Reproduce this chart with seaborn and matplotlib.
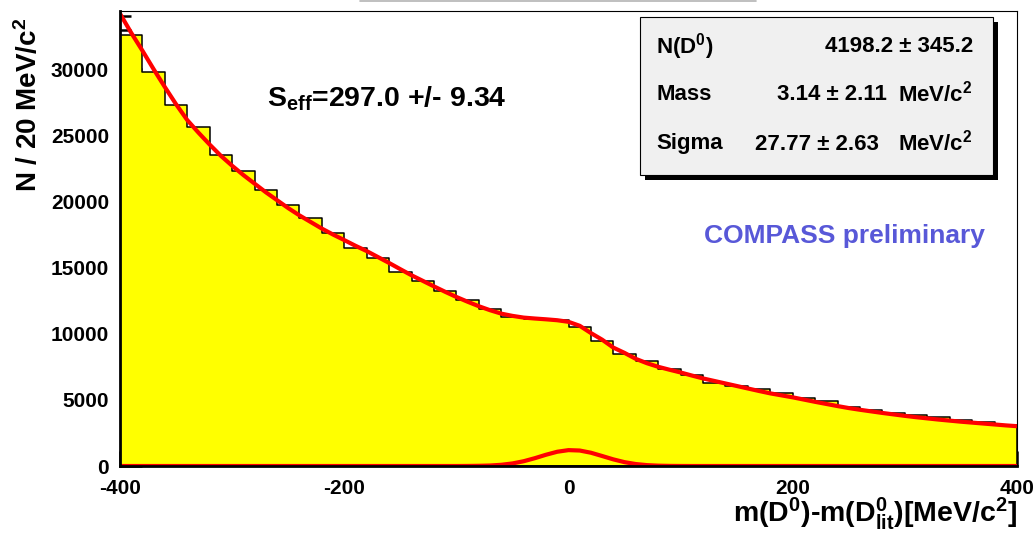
import matplotlib
matplotlib.use('Agg')
import matplotlib.pyplot as plt
import seaborn as sns
import pandas as pd
from matplotlib.patches import Rectangle
from matplotlib.lines import Line2D
from matplotlib.ticker import MultipleLocator

# histogram: 40 bins of 20 MeV from -400 to 400
bin_edges = list(range(-400, 401, 20))
counts = [32600, 29800, 27300, 25600, 23500, 22300, 20900, 19700, 18770, 17600,
          16480, 15720, 14660, 13990, 13230, 12530, 11850, 11270, 11150, 11070,
          10500, 9450, 8480, 7920, 7320, 6870, 6300, 6040, 5790, 5530,
          5160, 4930, 4480, 4260, 4020, 3850, 3670, 3490, 3300, 3100]

# total fit curve, read every 10 MeV
fit_x = list(range(-400, 401, 10))
fit_y = [34200, 32750, 31400, 30000, 28650, 27350, 26150, 25200, 24300, 23450,
         22700, 22000, 21350, 20700, 20100, 19500, 18950, 18450, 17950, 17500,
         17080, 16650, 16250, 15800, 15350, 14880, 14420, 14000, 13580, 13170,
         12780, 12420, 12080, 11780, 11520, 11350, 11220, 11150, 11090, 11020,
         10900, 10600, 10050, 9550, 8950, 8550, 8100, 7770, 7500, 7280,
         7070, 6840, 6620, 6430, 6240, 6050, 5860, 5670, 5490, 5340,
         5190, 5020, 4850, 4690, 4530, 4380, 4250, 4130, 4010, 3900,
         3790, 3690, 3600, 3510, 3430, 3350, 3280, 3210, 3140, 3070, 3010]

# signal component
sig_x = [-400, -100, -90, -80, -70, -60, -50, -40, -30, -20, -10, 0,
         10, 20, 30, 40, 50, 60, 70, 80, 90, 100, 110, 400]
sig_y = [0, 0, 5, 16, 37, 91, 193, 360, 591, 852, 1078, 1200,
         1170, 1003, 755, 500, 290, 148, 66, 26, 9, 3, 0, 0]

W, H = 1036, 534


def fx(px):
    return px / W


def fy(py):
    return 1 - py / H


sns.set_theme(style='ticks')
plt.rcParams['font.family'] = ['Liberation Sans', 'DejaVu Sans']
plt.rcParams['font.weight'] = 'bold'
plt.rcParams['text.color'] = 'black'
plt.rcParams['xtick.color'] = 'black'
plt.rcParams['ytick.color'] = 'black'
plt.rcParams['mathtext.fontset'] = 'custom'
plt.rcParams['mathtext.rm'] = 'Liberation Sans:bold'
plt.rcParams['mathtext.it'] = 'Liberation Sans:bold'
plt.rcParams['mathtext.bf'] = 'Liberation Sans:bold'
plt.rcParams['mathtext.default'] = 'rm'
plt.rcParams['axes.unicode_minus'] = False

fig = plt.figure(figsize=(10.36, 5.34), dpi=100)
ax = fig.add_axes([fx(120), fy(466), fx(1017) - fx(120), fy(11) - fy(466)])

hist_df = pd.DataFrame({'m': [b + 10 for b in bin_edges[:-1]], 'n': counts})
sns.histplot(data=hist_df, x='m', weights='n', bins=bin_edges, element='step',
             fill=True, color='#ffff00', edgecolor='black', linewidth=1.1,
             alpha=1, ax=ax)
sns.lineplot(x=fit_x, y=fit_y, color='red', linewidth=3, estimator=None,
             sort=False, ax=ax)
sns.lineplot(x=sig_x, y=sig_y, color='red', linewidth=3, estimator=None,
             sort=False, ax=ax)

ax.set_xlim(-400, 400)
ax.set_ylim(0, 34400)
ax.set_xlabel('')
ax.set_ylabel('')
ax.xaxis.set_major_locator(MultipleLocator(200))
ax.xaxis.set_minor_locator(MultipleLocator(50))
ax.yaxis.set_major_locator(MultipleLocator(5000))
ax.yaxis.set_minor_locator(MultipleLocator(1000))
ax.tick_params(which='both', direction='in', top=False, right=False,
               width=1.8, color='black', labelsize=15, labelcolor='black')
ax.tick_params(axis='x', which='major', length=11, pad=9)
ax.tick_params(axis='x', which='minor', length=5)
ax.tick_params(axis='y', which='major', length=16, pad=8)
ax.tick_params(axis='y', which='minor', length=8)
for s in ['left', 'bottom']:
    ax.spines[s].set_linewidth(2)
for s in ['top', 'right']:
    ax.spines[s].set_linewidth(0.8)
for s in ax.spines.values():
    s.set_color('black')

# stats box with shadow
fig.add_artist(Rectangle((fx(645), fy(180)), fx(998) - fx(645), fy(22) - fy(180),
                         transform=fig.transFigure, facecolor='black',
                         edgecolor='none', zorder=5))
fig.add_artist(Rectangle((fx(640), fy(175)), fx(993) - fx(640), fy(17) - fy(175),
                         transform=fig.transFigure, facecolor='#f0f0f0',
                         edgecolor='black', linewidth=0.8, zorder=6))
box_kw = dict(fontsize=16, va='center', zorder=7)
fig.text(fx(656), fy(47), r'N(D$^0$)', ha='left', **box_kw)
fig.text(fx(973), fy(46), '4198.2 ± 345.2', ha='right', **box_kw)
fig.text(fx(656), fy(95), 'Mass', ha='left', **box_kw)
fig.text(fx(887), fy(95), '3.14 ± 2.11', ha='right', **box_kw)
fig.text(fx(973), fy(94), r'MeV/c$^2$', ha='right', **box_kw)
fig.text(fx(656), fy(144), 'Sigma', ha='left', **box_kw)
fig.text(fx(879), fy(144), '27.77 ± 2.63', ha='right', **box_kw)
fig.text(fx(973), fy(143), r'MeV/c$^2$', ha='right', **box_kw)

fig.text(fx(267), fy(106.7), r'S$_{eff}$=297.0 +/- 9.34', fontsize=20.5,
         ha='left', va='baseline')
fig.text(fx(704), fy(243.3), 'COMPASS preliminary', color='#5858d8',
         fontsize=19, ha='left', va='baseline')
fig.text(fx(29), fy(18), r'N / 20 MeV/c$^2$', rotation=90, ha='center',
         va='top', fontsize=20)
fig.text(fx(1017), fy(522), r'm(D$^0$)-m(D$^0_{lit}$)[MeV/c$^2$]',
         ha='right', va='baseline', fontsize=20.5)

# partial title box edge at the very top
fig.add_artist(Line2D([fx(360), fx(756)], [fy(0.7), fy(0.7)],
                      transform=fig.transFigure, color='#b4b4b4', lw=1.2))

fig.savefig('out.png', dpi=100)
